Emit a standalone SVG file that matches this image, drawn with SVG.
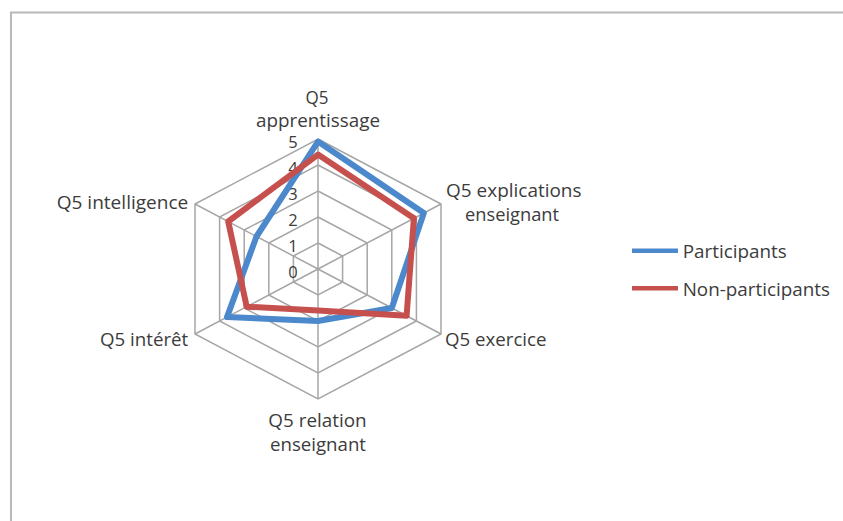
<svg xmlns="http://www.w3.org/2000/svg" width="843" height="521" viewBox="0 0 843 521">
<style>
.lbl{font-family:"Open Sans","Liberation Sans",sans-serif;font-size:18px;fill:#3c3c3c}
.num{font-family:"Open Sans","Liberation Sans",sans-serif;font-size:16.5px;fill:#3c3c3c;text-anchor:middle}
.grid{fill:none;stroke:#a6a6a6;stroke-width:1.5}
.ser{fill:none;stroke-width:6;stroke-linejoin:round}
</style>
<rect x="0" y="0" width="843" height="521" fill="#ffffff"/>
<path d="M11 521 V12.5 H843" fill="none" stroke="#b8b8b8" stroke-width="2"/>
<g id="grid">
<polygon class="grid" points="318,243 342.6,256 342.6,282 318,295 293.4,282 293.4,256"/>
<polygon class="grid" points="318,217 367.2,243 367.2,295 318,321 268.8,295 268.8,243"/>
<polygon class="grid" points="318,191 391.8,230 391.8,308 318,347 244.2,308 244.2,230"/>
<polygon class="grid" points="318,165 416.4,217 416.4,321 318,373 219.6,321 219.6,217"/>
<polygon class="grid" points="318,139 441,204 441,334 318,399 195,334 195,204"/>
<path class="grid" d="M318,269 L318,139 M318,269 L441,204 M318,269 L441,334 M318,269 L318,399 M318,269 L195,334 M318,269 L195,204"/>
</g>
<g id="scale">
<text class="num" x="293" y="278">0</text>
<text class="num" x="293" y="252">1</text>
<text class="num" x="293" y="226">2</text>
<text class="num" x="293" y="200">3</text>
<text class="num" x="293" y="174">4</text>
<text class="num" x="293" y="148">5</text>
</g>
<g id="connectors">
<polygon id="participants" class="ser" stroke="#4B89CC" points="318,141.6 423.8,213.1 391.8,308 318,321 227,317.1 256.5,236.5"/>
<polygon id="non-participants" class="ser" stroke="#C6504D" points="318,154.6 413.9,218.3 406.6,315.8 318,310.6 246.7,306.7 228.2,221.5"/>
</g>
<g id="axis-apprentissage">
<text class="lbl" x="317" y="104" text-anchor="middle" textLength="23" lengthAdjust="spacingAndGlyphs">Q5</text>
<text class="lbl" x="318" y="127" text-anchor="middle" textLength="124" lengthAdjust="spacingAndGlyphs">apprentissage</text>
</g>
<g id="axis-explications">
<text class="lbl" x="513.8" y="197" text-anchor="middle" textLength="135.5" lengthAdjust="spacingAndGlyphs">Q5 explications</text>
<text class="lbl" x="512" y="221" text-anchor="middle" textLength="94" lengthAdjust="spacingAndGlyphs">enseignant</text>
</g>
<g id="axis-exercice">
<text class="lbl" x="445" y="346" textLength="101.5" lengthAdjust="spacingAndGlyphs">Q5 exercice</text>
</g>
<g id="axis-relation">
<text class="lbl" x="317.5" y="426.5" text-anchor="middle" textLength="98.4" lengthAdjust="spacingAndGlyphs">Q5 relation</text>
<text class="lbl" x="318" y="451" text-anchor="middle" textLength="96" lengthAdjust="spacingAndGlyphs">enseignant</text>
</g>
<g id="axis-interet">
<text class="lbl" x="188.3" y="346" text-anchor="end" textLength="88.3" lengthAdjust="spacingAndGlyphs">Q5 intérêt</text>
</g>
<g id="axis-intelligence">
<text class="lbl" x="188.3" y="209" text-anchor="end" textLength="131.6" lengthAdjust="spacingAndGlyphs">Q5 intelligence</text>
</g>
<g id="legend">
<line x1="632" y1="250.7" x2="678" y2="250.7" stroke="#4B89CC" stroke-width="4.5"/>
<text class="lbl" x="682.7" y="258.3" textLength="104" lengthAdjust="spacingAndGlyphs">Participants</text>
<line x1="632" y1="288.3" x2="678" y2="288.3" stroke="#C6504D" stroke-width="4.5"/>
<text class="lbl" x="682.7" y="296.3" textLength="147.3" lengthAdjust="spacingAndGlyphs">Non-participants</text>
</g>
</svg>
